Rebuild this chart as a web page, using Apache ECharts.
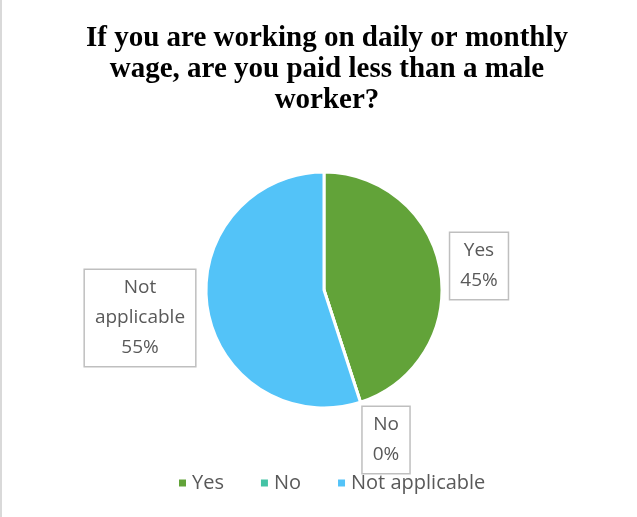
<!DOCTYPE html>
<html>
<head>
<meta charset="utf-8">
<script src="https://cdn.jsdelivr.net/npm/echarts@6/dist/echarts.min.js"></script>
<style>
  html, body { margin: 0; padding: 0; background: #fff; }
  #chart { width: 637px; height: 517px; }
</style>
</head>
<body>
<div id="chart"></div>
<script>
"use strict";

var answers = ["Yes", "No", "Not applicable"];
var shares = [45, 0, 55];
var colors = ["#62a339", "#44c3a5", "#53c3f8"];
// where each callout box sits (centre of box)
var labelSpots = [[479, 266], [386, 440], [140, 318]];

var chart = echarts.init(document.getElementById("chart"));

var pieData = answers.map(function(a, i) {
    return { name: a, value: shares[i], itemStyle: { color: colors[i] } };
});

var option = {
    animation: false,
    title: {
        text: "If you are working on daily or monthly\nwage, are you paid less than a male\nworker?",
        left: 322,
        top: 18,
        textAlign: "center",
        textStyle: {
            fontFamily: "Liberation Serif",
            fontWeight: "bold",
            fontSize: 29,
            lineHeight: 31,
            color: "#000"
        }
    },
    legend: {
        data: answers,
        bottom: 19,
        left: 172,
        itemWidth: 9,
        itemHeight: 9,
        itemGap: 35,
        icon: "rect",
        textStyle: { fontFamily: "Open Sans", fontSize: 20, color: "#595959" }
    },
    graphic: [{
        type: "line",
        shape: { x1: 1, y1: 0, x2: 1, y2: 517 },
        style: { stroke: "#d9d9d9", lineWidth: 2 }
    }],
    series: [{
        type: "pie",
        center: [324, 290],
        radius: 118,
        startAngle: 90,
        clockwise: true,
        data: pieData,
        itemStyle: { borderColor: "#fff", borderWidth: 3 },
        labelLine: { show: false },
        label: {
            show: true,
            position: "outside",
            formatter: function(p) {
                return p.name.replace(" ", "\n") + "\n" + p.percent.toFixed(0) + "%";
            },
            fontFamily: "Open Sans",
            fontSize: 19,
            lineHeight: 30,
            color: "#595959",
            align: "center",
            backgroundColor: "#fff",
            borderColor: "#bfbfbf",
            borderWidth: 1.5,
            padding: [4, 10, 2, 10]
        },
        labelLayout: function(params) {
            var s = labelSpots[params.dataIndex];
            return { x: s[0], y: s[1], align: "center", verticalAlign: "middle" };
        }
    }]
};

chart.setOption(option);
</script>
</body>
</html>
